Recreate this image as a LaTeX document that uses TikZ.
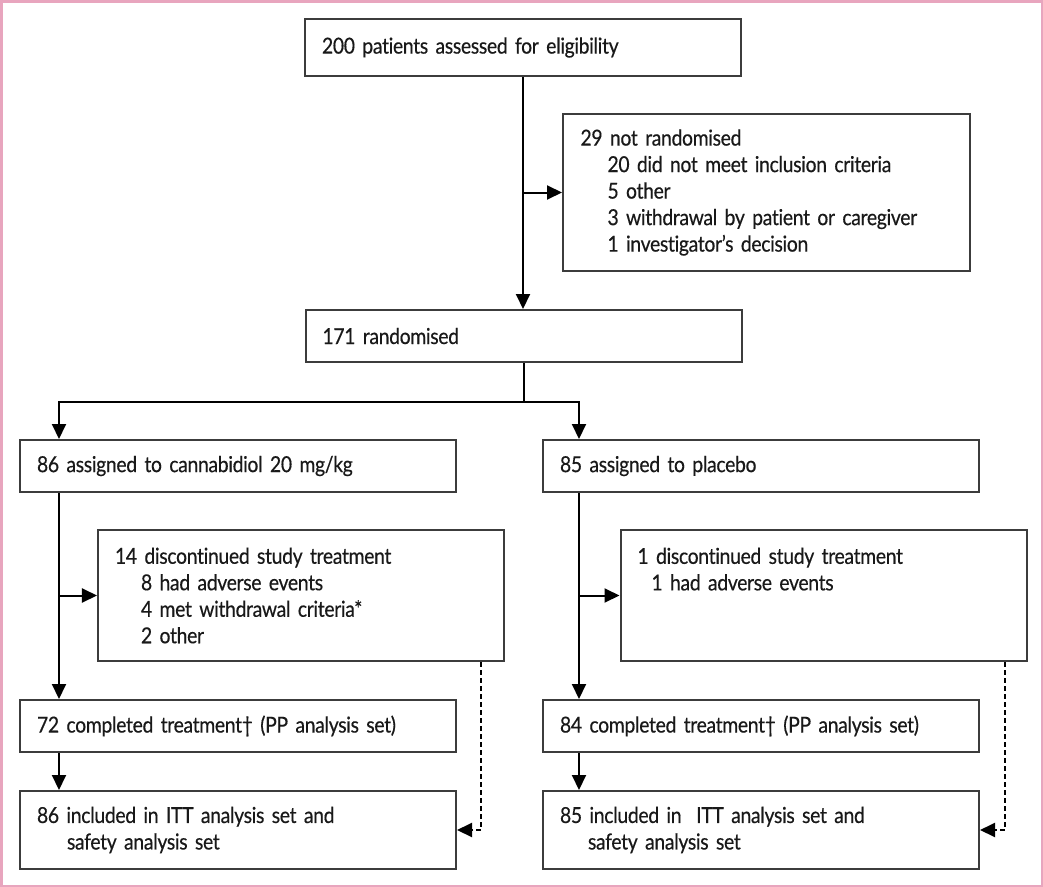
\documentclass[tikz,border=0pt]{standalone}
\usepackage{fontspec}
\setmainfont{Lato}[FakeStretch=0.88,LetterSpace=-1.5,FakeBold=0.4,Ligatures=NoCommon]
\usetikzlibrary{arrows.meta,calc}
\definecolor{pinkframe}{RGB}{232,165,190}
\definecolor{boxline}{RGB}{60,60,60}
\newcommand\boxfont{\fontsize{22bp}{26.5bp}\selectfont\spaceskip=0.12em plus 0.04em\relax}

\begin{document}
\begin{tikzpicture}
        [x=1bp,y=-1bp,
         every node/.style={draw=boxline,line width=2bp,align=left,inner xsep=17bp,inner ysep=0pt,text=black!90,font=\boxfont},
         wide/.style={minimum width=436bp,text width=402bp},
         narrow/.style={minimum width=406bp,text width=372bp},
         link/.style={line width=2bp,-{Triangle[length=15bp,width=14bp]}},
         dropout/.style={link,dash pattern=on 5bp off 3bp}]
        \useasboundingbox (0,0) rectangle (1043,887);
        \draw[pinkframe,line width=2bp] (1.5,1.5) rectangle (1041.5,885.5);

        \node[wide,minimum height=57bp] (screen) at (523,47.5) {200 patients assessed for eligibility};
        \node[narrow,minimum height=157bp,minimum width=407bp] (excl) at (766.5,192.5) {29 not randomised\\
            \hspace*{27bp}20 did not meet inclusion criteria\\
            \hspace*{27bp}5 other\\
            \hspace*{27bp}3 withdrawal by patient or caregiver\\
            \hspace*{27bp}1 investigator’s decision};
        \node[wide,minimum height=52bp] (rand) at (523.5,336) {171 randomised};

        \node[wide,minimum height=52bp] (ca) at (238,466) {86 assigned to cannabidiol 20 mg/kg};
        \node[wide,minimum height=52bp] (pl) at (761,466) {85 assigned to placebo};

        \node[narrow,minimum height=131bp] (dca) at (301,595.5) {14 discontinued study treatment\\
            \hspace*{26bp}8 had adverse events\\
            \hspace*{26bp}4 met withdrawal criteria*\\
            \hspace*{26bp}2 other};
        \node[narrow,minimum height=131bp] (dpl) at (823.5,595.5) {1 discontinued study treatment\\
            \hspace*{14bp}1 had adverse events\\
            \mbox{}\\
            \mbox{}};

        \node[wide,minimum height=52bp] (cca) at (238,726) {72 completed treatment† (PP analysis set)};
        \node[wide,minimum height=52bp] (cpl) at (761,726) {84 completed treatment† (PP analysis set)};

        \node[wide,minimum height=78bp] (ica) at (238,830) {86 included in ITT analysis set and\\
            \hspace*{30bp}safety analysis set};
        \node[wide,minimum height=78bp] (ipl) at (761,830) {85 included in\ \ ITT analysis set and\\
            \hspace*{28bp}safety analysis set};

        \coordinate (caline) at ($(ca.north west)+(40,0)$);
        \coordinate (plline) at ($(pl.north west)+(37,0)$);

        \draw[link] (screen.south) -- (screen.south |- rand.north);
        \draw[link] (screen.south |- excl.west) -- (excl.west);
        \draw[link] (rand.south) -- ++(0,39) -| (caline);
        \draw[link] (rand.south) -- ++(0,39) -| (plline);

        \draw[link] (caline |- ca.south) -- (caline |- cca.north);
        \draw[link] (caline |- dca.west) -- (dca.west);
        \draw[link] (caline |- cca.south) -- (caline |- ica.north);
        \draw[link] (plline |- pl.south) -- (plline |- cpl.north);
        \draw[link] (plline |- dpl.west) -- (dpl.west);
        \draw[link] (plline |- cpl.south) -- (plline |- ipl.north);

        \draw[dropout] ($(dca.south east)+(-24,0)$) |- (ica.east);
        \draw[dropout] ($(dpl.south east)+(-23,0)$) |- (ipl.east);
    \end{tikzpicture}
\end{document}
